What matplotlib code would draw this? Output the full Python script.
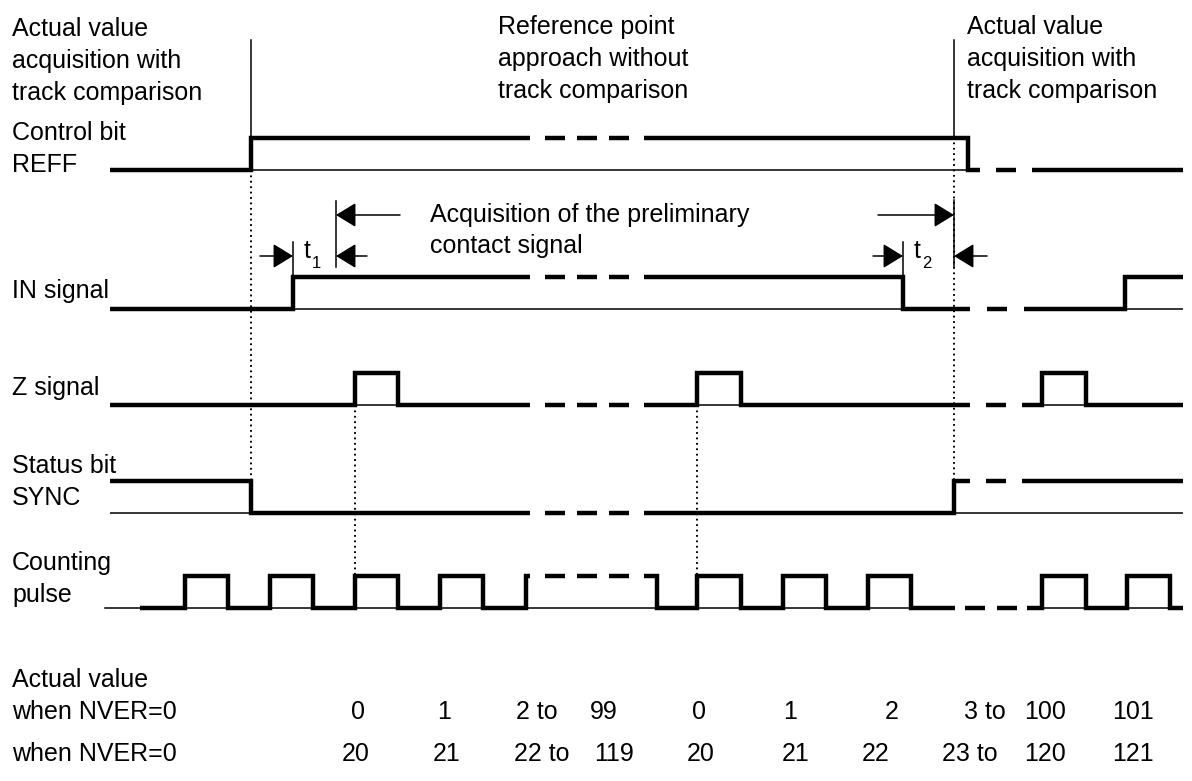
import numpy as np
import matplotlib.pyplot as plt

plt.rcParams['font.family'] = ['Liberation Sans', 'DejaVu Sans']
plt.rcParams['lines.scale_dashes'] = False

# --- signal data (time axis in px of the original drawing) ---
row_low = [170, 309, 405, 513, 608]      # low level of each trace
row_start = [110, 110, 110, 110, 140]
row_init = [0, 0, 0, 1, 0]
reff_edges = [251, 968]
in_edges = [293, 903, 1125]
z_edges = [355, 398, 697, 741, 1042, 1086]
sync_edges = [251, 954]
count_edges = [185, 228, 270, 313, 355, 398, 440, 483, 526,
               657, 697, 741, 783, 826, 868, 911,
               1042, 1086, 1127, 1170]
row_edges = [reff_edges, in_edges, z_edges, sync_edges, count_edges]
row_breaks = [[(530, 644), (980, 1032)],
              [(530, 644), (970, 1024)],
              [(530, 644), (970, 1022)],
              [(530, 644), (970, 1022)],
              [(530, 644), (955, 1027)]]
row_end = 1183
count_lead = 105

left_labels = [["Actual value", "acquisition with", "track comparison"],
               ["Control bit", "REFF"], ["IN signal"], ["Z signal"],
               ["Status bit", "SYNC"], ["Counting", "pulse"],
               ["Actual value", "when NVER=0"], ["when NVER=0"]]
left_label_y = [36, 140, 298, 395, 473, 570, 687, 761]

values_1 = ["0", "1", "2 to", "99", "0", "1", "2", "3 to", "100", "101"]
values_1_x = [351, 437, 516, 590, 692, 783, 885, 964, 1024, 1112]
values_2 = ["20", "21", "22 to", "119", "20", "21", "22", "23 to", "120", "121"]
values_2_x = [342, 433, 514, 594, 687, 782, 862, 942, 1024, 1112]

AMP = 32
THICK = 3.2
THIN = 1.1
ON, OFF = 20, 12
PX = 0.72  # px -> pt at 100 dpi


def state_at(edges, init, x):
    return (init + sum(1 for e in edges if e < x)) % 2


def step_xy(edges, init, a, b, low):
    s = state_at(edges, init, a + 1e-6)
    xs, ys = [a], [s]
    for e in edges:
        if a < e < b:
            xs += [e, e]
            ys += [s, 1 - s]
            s = 1 - s
    xs.append(b)
    ys.append(s)
    return np.array(xs), low - AMP * np.array(ys)


def high_spans(edges, init, a, b):
    pts = [a] + [e for e in edges if a < e < b] + [b]
    spans = []
    for p, q in zip(pts[:-1], pts[1:]):
        if state_at(edges, init, (p + q) / 2) == 1:
            spans.append((p, q))
    return spans


fig = plt.figure(figsize=(11.92, 7.81), dpi=100)
ax = fig.add_axes([0, 0, 1, 1])
ax.set_xlim(0, 1192)
ax.set_ylim(781, 0)
ax.axis('off')

for i, edges in enumerate(row_edges):
    low, init, start = row_low[i], row_init[i], row_start[i]
    breaks = row_breaks[i]
    # thin closing line under high parts
    for p, q in high_spans(edges, init, start, row_end):
        ax.plot([p, q], [low, low], color='k', lw=THIN, solid_capstyle='butt')
    if i == 4:
        ax.plot([count_lead, start], [low, low], color='k', lw=THIN)
    # solid pieces
    bounds = [start] + [v for br in breaks for v in br] + [row_end]
    for a, b in zip(bounds[::2], bounds[1::2]):
        xs, ys = step_xy(edges, init, a, b, low)
        ax.plot(xs, ys, color='k', lw=THICK, solid_capstyle='butt',
                solid_joinstyle='miter')
    # dashed pieces
    for p, q in breaks:
        s = state_at(edges, init, (p + q) / 2)
        n = max(1, int(round((q - p - OFF) / (ON + OFF))))
        span = n * ON + (n - 1) * OFF
        x0 = p + (q - p - span) / 2
        ax.plot([x0, x0 + span], [low - AMP * s] * 2, color='k', lw=THICK,
                linestyle=(0, (ON * PX, OFF * PX)), dash_capstyle='butt')

# vertical guide lines
for x, y0, y1 in [(251, 40, 137), (954, 40, 137)]:
    ax.plot([x, x], [y0, y1], color='k', lw=1.1)
for x, y0, y1 in [(251, 170, 481), (954, 137, 481), (355, 405, 577), (697, 405, 577)]:
    ax.plot([x, x], [y0, y1], color='k', lw=1.4, linestyle=(0, (1.3, 2.6)))
for x, y0, y1 in [(293, 242, 277), (336, 201, 267), (903, 242, 277), (954, 200, 267)]:
    ax.plot([x, x], [y0, y1], color='k', lw=1.1)

# dimension arrows (tail -> head)
for (xt, yt), (xh, yh) in [((260, 256), (293, 256)), ((400, 215), (336, 215)),
                           ((367, 256), (336, 256)), ((873, 256), (903, 256)),
                           ((878, 215), (954, 215)), ((987, 256), (954, 256))]:
    ax.annotate('', xy=(xh, yh), xytext=(xt, yt),
                arrowprops=dict(arrowstyle='-|>,head_length=0.62,head_width=0.38',
                                mutation_scale=20, lw=1.1, color='k',
                                shrinkA=0, shrinkB=0))

FS = 18
for x, sub in [(304, "1"), (914, "2")]:
    ax.text(x, 258, "t", fontsize=FS, va='baseline', ha='left')
    ax.text(x + 8, 268, sub, fontsize=12, va='baseline', ha='left')

ax.text(430, 222, "Acquisition of the preliminary", fontsize=FS, va='baseline')
ax.text(430, 253, "contact signal", fontsize=FS, va='baseline')


def text_block(x, y, lines, step=32):
    for k, line in enumerate(lines):
        ax.text(x, y + k * step, line, fontsize=FS, va='baseline', ha='left')


for lines, y in zip(left_labels, left_label_y):
    text_block(12, y, lines)
text_block(498, 34, ["Reference point", "approach without", "track comparison"])
text_block(967, 34, ["Actual value", "acquisition with", "track comparison"])

for t, x in zip(values_1, values_1_x):
    ax.text(x, 719, t, fontsize=FS, va='baseline', ha='left')
for t, x in zip(values_2, values_2_x):
    ax.text(x, 761, t, fontsize=FS, va='baseline', ha='left')

fig.savefig('out.png', dpi=100)
